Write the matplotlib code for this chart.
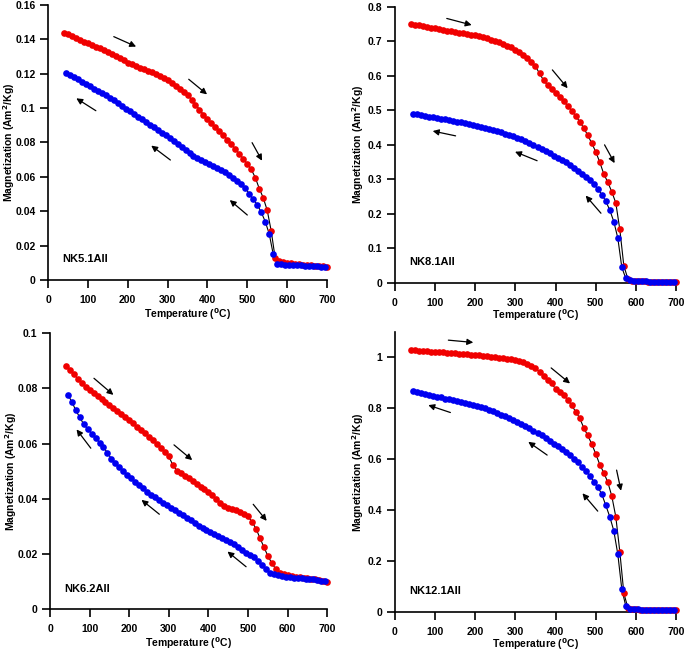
import numpy as np
import matplotlib
matplotlib.use("Agg")
import matplotlib.pyplot as plt
from matplotlib.ticker import FuncFormatter, MultipleLocator

plt.rcParams['font.family'] = ['Liberation Sans', 'DejaVu Sans']
plt.rcParams['font.weight'] = 'bold'

# temperature grids (deg C) of the heating / cooling runs
heat_T = np.arange(40, 701, 10)
cool_T = np.arange(45, 700, 10)

# NK5.1AII
nk51_heat = [0.1440, 0.1430, 0.1420, 0.1410, 0.1398, 0.1387, 0.1377, 0.1367, 0.1357, 0.1347,
             0.1337, 0.1328, 0.1316, 0.1304, 0.1291, 0.1278, 0.1265, 0.1256, 0.1246, 0.1236,
             0.1227, 0.1218, 0.1208, 0.1197, 0.1186, 0.1175, 0.1164, 0.1147, 0.1130, 0.1112,
             0.1094, 0.1076, 0.1050, 0.1020, 0.0992, 0.0962, 0.0935, 0.0912, 0.0889, 0.0866,
             0.0842, 0.0817, 0.0791, 0.0763, 0.0734, 0.0706, 0.0676, 0.0643, 0.0596, 0.0532,
             0.0478, 0.0405, 0.0285, 0.0126, 0.0110, 0.0104, 0.0100, 0.0097, 0.0094, 0.0092,
             0.0090, 0.0088, 0.0086, 0.0084, 0.0081, 0.0079, 0.0076]
nk51_cool = [0.1206, 0.1193, 0.1180, 0.1167, 0.1154, 0.1141, 0.1128, 0.1114, 0.1101, 0.1087,
             0.1074, 0.1060, 0.1045, 0.1030, 0.1014, 0.0997, 0.0981, 0.0966, 0.0951, 0.0936,
             0.0920, 0.0904, 0.0888, 0.0872, 0.0857, 0.0841, 0.0825, 0.0808, 0.0790, 0.0772,
             0.0755, 0.0739, 0.0724, 0.0710, 0.0698, 0.0687, 0.0677, 0.0666, 0.0654, 0.0641,
             0.0627, 0.0611, 0.0594, 0.0576, 0.0558, 0.0537, 0.0500, 0.0470, 0.0438, 0.0394,
             0.0340, 0.0268, 0.0150, 0.0095, 0.0092, 0.0090, 0.0088, 0.0087, 0.0086, 0.0085,
             0.0083, 0.0082, 0.0080, 0.0079, 0.0077, 0.0075]

# NK8.1AII
nk81_heat = [0.750, 0.748, 0.746, 0.744, 0.741, 0.739, 0.737, 0.735, 0.733, 0.731,
             0.729, 0.727, 0.725, 0.723, 0.721, 0.719, 0.717, 0.714, 0.711, 0.708,
             0.705, 0.701, 0.697, 0.692, 0.687, 0.682, 0.676, 0.669, 0.661, 0.652,
             0.641, 0.627, 0.607, 0.587, 0.573, 0.562, 0.550, 0.538, 0.526, 0.513,
             0.499, 0.484, 0.467, 0.449, 0.428, 0.405, 0.380, 0.350, 0.316, 0.292,
             0.264, 0.232, 0.155, 0.050, 0.012, 0.007, 0.006, 0.005, 0.005, 0.004,
             0.004, 0.004, 0.004, 0.003, 0.003, 0.003, 0.003]
nk81_cool = [0.490, 0.488, 0.486, 0.484, 0.482, 0.480, 0.478, 0.476, 0.474, 0.472,
             0.469, 0.467, 0.465, 0.462, 0.460, 0.457, 0.455, 0.452, 0.449, 0.446,
             0.443, 0.439, 0.436, 0.432, 0.428, 0.425, 0.421, 0.417, 0.411, 0.405,
             0.399, 0.394, 0.388, 0.382, 0.375, 0.369, 0.363, 0.356, 0.349, 0.342,
             0.334, 0.325, 0.316, 0.306, 0.297, 0.286, 0.273, 0.256, 0.237, 0.211,
             0.178, 0.130, 0.045, 0.013, 0.008, 0.006, 0.005, 0.005, 0.005, 0.004,
             0.004, 0.004, 0.004, 0.004, 0.004, 0.004]

# NK6.2AII
nk62_heat = [0.0882, 0.0865, 0.0850, 0.0835, 0.0820, 0.0806, 0.0794, 0.0782, 0.0771, 0.0760,
             0.0749, 0.0739, 0.0728, 0.0717, 0.0707, 0.0696, 0.0685, 0.0673, 0.0661, 0.0649,
             0.0637, 0.0625, 0.0612, 0.0598, 0.0585, 0.0571, 0.0553, 0.0522, 0.0502, 0.0495,
             0.0484, 0.0474, 0.0464, 0.0454, 0.0444, 0.0434, 0.0424, 0.0412, 0.0398, 0.0384,
             0.0375, 0.0368, 0.0363, 0.0359, 0.0353, 0.0346, 0.0336, 0.0316, 0.0292, 0.0258,
             0.0225, 0.0193, 0.0167, 0.0145, 0.0133, 0.0128, 0.0124, 0.0121, 0.0118, 0.0116,
             0.0114, 0.0112, 0.0110, 0.0108, 0.0106, 0.0103, 0.0100]
nk62_cool = [0.0776, 0.0752, 0.0720, 0.0695, 0.0670, 0.0652, 0.0636, 0.0620, 0.0603, 0.0587,
             0.0566, 0.0545, 0.0530, 0.0515, 0.0501, 0.0487, 0.0474, 0.0462, 0.0450, 0.0438,
             0.0426, 0.0415, 0.0405, 0.0395, 0.0386, 0.0377, 0.0368, 0.0360, 0.0350, 0.0341,
             0.0331, 0.0322, 0.0313, 0.0303, 0.0294, 0.0287, 0.0280, 0.0273, 0.0266, 0.0258,
             0.0250, 0.0243, 0.0235, 0.0225, 0.0215, 0.0205, 0.0197, 0.0189, 0.0176, 0.0160,
             0.0145, 0.0133, 0.0127, 0.0123, 0.0120, 0.0118, 0.0116, 0.0115, 0.0113, 0.0112,
             0.0110, 0.0109, 0.0108, 0.0106, 0.0104, 0.0101]

# NK12.1AII
nk121_heat = [1.029, 1.028, 1.027, 1.026, 1.025, 1.023, 1.022, 1.021, 1.020, 1.019,
              1.017, 1.016, 1.015, 1.013, 1.012, 1.010, 1.009, 1.008, 1.006, 1.005,
              1.003, 1.001, 0.999, 0.997, 0.995, 0.993, 0.990, 0.986, 0.981, 0.975,
              0.968, 0.958, 0.944, 0.928, 0.912, 0.898, 0.877, 0.866, 0.851, 0.835,
              0.812, 0.788, 0.762, 0.725, 0.694, 0.661, 0.622, 0.580, 0.548, 0.511,
              0.456, 0.375, 0.238, 0.075, 0.018, 0.013, 0.011, 0.010, 0.010, 0.009,
              0.009, 0.009, 0.008, 0.008, 0.008, 0.008, 0.008]
nk121_cool = [0.869, 0.866, 0.862, 0.858, 0.854, 0.850, 0.846, 0.843, 0.839, 0.836,
              0.832, 0.829, 0.825, 0.821, 0.817, 0.813, 0.810, 0.805, 0.800, 0.795,
              0.789, 0.783, 0.776, 0.769, 0.762, 0.754, 0.745, 0.737, 0.730, 0.722,
              0.713, 0.704, 0.694, 0.684, 0.673, 0.662, 0.651, 0.640, 0.628, 0.616,
              0.603, 0.588, 0.571, 0.554, 0.536, 0.513, 0.492, 0.464, 0.420, 0.375,
              0.320, 0.228, 0.090, 0.024, 0.014, 0.012, 0.011, 0.010, 0.010, 0.009,
              0.009, 0.009, 0.008, 0.008, 0.008, 0.008]

names = ['NK5.1AII', 'NK8.1AII', 'NK6.2AII', 'NK12.1AII']
heats = [nk51_heat, nk81_heat, nk62_heat, nk121_heat]
cools = [nk51_cool, nk81_cool, nk62_cool, nk121_cool]
ytops = [0.16, 0.8, 0.1, 1.1]
ysteps = [0.02, 0.1, 0.02, 0.2]

# arrows: (tail T, tail M, head T, head M)
arrows = [
    [(165, 0.1416, 221, 0.1358), (353, 0.1168, 399, 0.1080), (512, 0.0799, 537, 0.0694),
     (120, 0.0985, 71, 0.1057), (307, 0.0698, 259, 0.0782), (500, 0.0378, 456, 0.0465)],
    [(129, 0.766, 191, 0.747), (392, 0.617, 430, 0.564), (522, 0.400, 547, 0.347),
     (151, 0.426, 94, 0.440), (354, 0.354, 299, 0.380), (513, 0.202, 475, 0.253)],
    [(111, 0.0836, 160, 0.0776), (313, 0.0595, 359, 0.0540), (513, 0.0380, 547, 0.0320),
     (103, 0.0583, 67, 0.0651), (276, 0.0344, 231, 0.0396), (495, 0.0154, 448, 0.0209)],
    [(133, 1.068, 195, 1.059), (389, 0.959, 436, 0.898), (552, 0.558, 563, 0.477),
     (138, 0.784, 83, 0.813), (379, 0.617, 332, 0.669), (505, 0.397, 467, 0.467)],
]

positions = [
    [0.0701, 0.5706, 0.4073, 0.4217],
    [0.5766, 0.5660, 0.4103, 0.4237],
    [0.0730, 0.0655, 0.4048, 0.4238],
    [0.5766, 0.0609, 0.4103, 0.4299],
]
ylabel_x = [-0.140, -0.130, -0.142, -0.130]
xlabel_y = [-0.124, -0.116, -0.122, -0.112]

fig = plt.figure(figsize=(6.85, 6.52), dpi=100)

for i in range(4):
    ax = fig.add_axes(positions[i])
    ax.plot(heat_T, heats[i], color='black', lw=0.8, zorder=2, clip_on=False)
    ax.plot(cool_T, cools[i], color='black', lw=0.8, zorder=2, clip_on=False)
    ax.plot(heat_T, heats[i], 'o', color='#f00000', ms=4.8, mec='none', zorder=3, clip_on=False)
    ax.plot(cool_T, cools[i], 'o', color='#0000f0', ms=4.8, mec='none', zorder=4, clip_on=False)
    for (t0, m0, t1, m1) in arrows[i]:
        ax.annotate('', xy=(t1, m1), xytext=(t0, m0),
                    arrowprops=dict(arrowstyle='-|>', color='black', lw=0.9,
                                    mutation_scale=9, shrinkA=0, shrinkB=0))
    ax.set_xlim(0, 700)
    ax.set_ylim(0, ytops[i])
    ax.xaxis.set_major_locator(MultipleLocator(100))
    ax.yaxis.set_major_locator(MultipleLocator(ysteps[i]))
    ax.yaxis.set_major_formatter(FuncFormatter(lambda v, p: '%g' % round(v, 4)))
    ax.spines['top'].set_visible(False)
    ax.spines['right'].set_visible(False)
    ax.spines['left'].set_linewidth(1.2)
    ax.spines['bottom'].set_linewidth(1.2)
    ax.tick_params(direction='out', length=5.5, width=1.2, labelsize=7.5)
    ax.tick_params(axis='x', pad=5)
    ax.tick_params(axis='y', pad=3.5)
    for lab in ax.get_xticklabels() + ax.get_yticklabels():
        lab.set_fontweight('bold')
    ax.set_xlabel('Temperature ($^{\\mathbf{0}}$C)', fontsize=7.5, fontweight='bold')
    ax.set_ylabel('Magnetization (Am$^{\\mathbf{2}}$/Kg)', fontsize=7.5, fontweight='bold')
    ax.yaxis.set_label_coords(ylabel_x[i], 0.5)
    ax.xaxis.set_label_coords(0.5, xlabel_y[i])
    ax.xaxis.label.set_va('center')
    ax.yaxis.label.set_va('center')
    ax.text(0.05, 0.075, names[i], transform=ax.transAxes, fontsize=8, fontweight='bold',
            va='center', ha='left')

fig.savefig('out.png', dpi=100)
